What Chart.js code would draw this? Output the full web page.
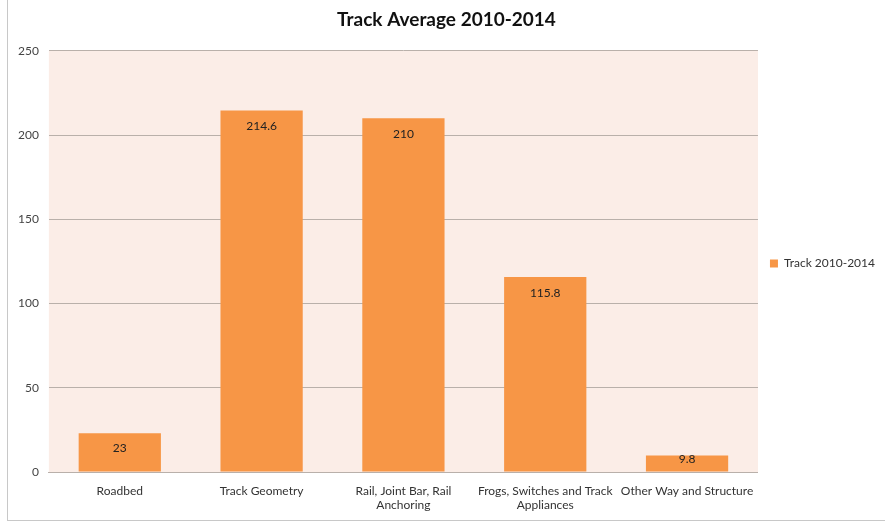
<!DOCTYPE html>
<html>
<head>
<meta charset="utf-8">
<script src="https://cdn.jsdelivr.net/npm/chart.js@4.4.0/dist/chart.umd.min.js"></script>
<style>
  html, body { margin: 0; padding: 0; background: #fff; }
  #wrap { position: relative; width: 885px; height: 527px; }
</style>
</head>
<body>
<div id="wrap"><canvas id="track-chart" width="885" height="527"></canvas></div>
<script>
// Track Average chart data
const categories = [
  "Roadbed",
  "Track Geometry",
  ["Rail, Joint Bar, Rail", "Anchoring"],
  ["Frogs, Switches and Track", "Appliances"],
  "Other Way and Structure",
];
const trackValues = [23, 214.6, 210, 115.8, 9.8];
const yTicks = [0, 50, 100, 150, 200, 250];
const seriesName = "Track 2010-2014";

const FONT = "Lato, 'Open Sans', sans-serif";

// plot background + outer frame
const backgroundPlugin = {
  id: "plotBackground",
  beforeDraw(chart) {
    const { ctx, chartArea } = chart;
    ctx.save();
    ctx.strokeStyle = "#c8c8c8";
    ctx.lineWidth = 1;
    ctx.strokeRect(7.5, -2, 900, 522.5);
    ctx.fillStyle = "#fbede7";
    ctx.fillRect(chartArea.left, chartArea.top, chartArea.right - chartArea.left, chartArea.bottom - chartArea.top);
    ctx.restore();
  },
};

// value labels inside the top of each bar
const valueLabelPlugin = {
  id: "valueLabels",
  afterDatasetsDraw(chart) {
    const { ctx } = chart;
    const meta = chart.getDatasetMeta(0);
    ctx.save();
    ctx.fillStyle = "#222";
    ctx.font = "12px " + FONT;
    ctx.textAlign = "center";
    ctx.textBaseline = "middle";
    meta.data.forEach((bar, i) => {
      const h = bar.base - bar.y;
      const offset = Math.min(16, h / 2 - 4);
      ctx.fillText(String(trackValues[i]), bar.x, bar.y + offset);
    });
    ctx.restore();
  },
};

new Chart(document.getElementById("track-chart"), {
  type: "bar",
  data: {
    labels: categories,
    datasets: [
      {
        label: seriesName,
        data: trackValues,
        backgroundColor: "#f79646",
        borderWidth: 0,
        categoryPercentage: 1,
        barPercentage: 0.58,
      },
    ],
  },
  options: {
    responsive: false,
    animation: false,
    layout: {
      padding: { left: 8, right: 0, top: 6, bottom: 6 },
    },
    plugins: {
      title: {
        display: true,
        text: "Track Average 2010-2014",
        color: "#111",
        font: { family: FONT, size: 19, weight: "bold" },
        padding: { top: 2, bottom: 20 },
      },
      legend: {
        position: "right",
        labels: {
          boxWidth: 8,
          boxHeight: 8,
          padding: 12,
          color: "#333",
          font: { family: FONT, size: 12 },
        },
      },
      tooltip: { enabled: false },
    },
    scales: {
      y: {
        min: 0,
        max: 250,
        afterBuildTicks: (axis) => {
          axis.ticks = yTicks.map((v) => ({ value: v }));
        },
        ticks: {
          color: "#444",
          padding: 10,
          font: { family: FONT, size: 12 },
        },
        grid: {
          color: "#b9b0aa",
          drawTicks: false,
        },
        border: { display: false },
      },
      x: {
        afterFit: (axis) => {
          axis.height = 49;
        },
        ticks: {
          color: "#333",
          maxRotation: 0,
          autoSkip: false,
          padding: 4,
          font: { family: FONT, size: 12 },
        },
        grid: { display: false },
        border: { color: "#b9b0aa" },
      },
    },
  },
  plugins: [backgroundPlugin, valueLabelPlugin],
});
</script>
</body>
</html>
